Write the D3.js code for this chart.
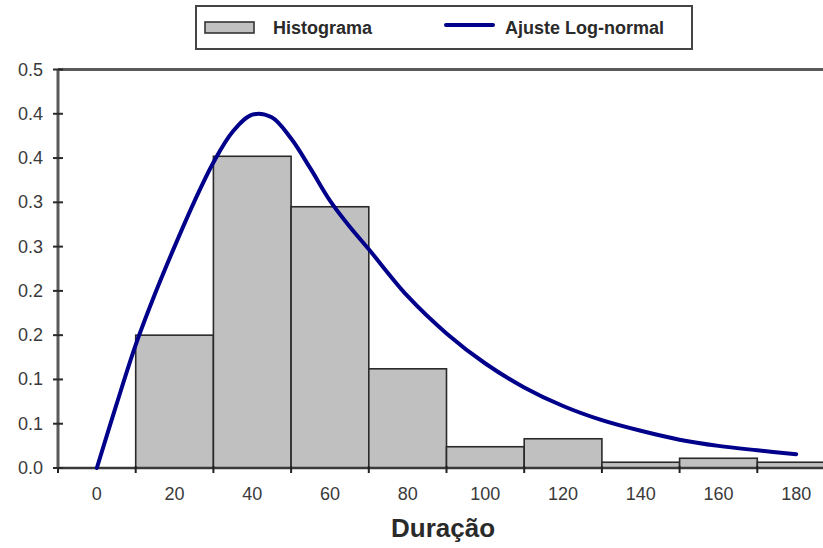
<!DOCTYPE html>
<html>
<head>
<meta charset="utf-8">
<script src="https://cdn.jsdelivr.net/npm/d3@7"></script>
<style>
  body { margin: 0; background: #fff; }
  text { font-family: "Liberation Sans", Arial, sans-serif; }
</style>
</head>
<body>
<div id="chart"></div>
<script>
// histogram bins (lower edge, upper edge, relative frequency)
var binStart = [10, 30, 50, 70, 90, 110, 130, 150, 170];
var binEnd   = [30, 50, 70, 90, 110, 130, 150, 170, 190];
var freq     = [0.150, 0.352, 0.295, 0.112, 0.024, 0.033, 0.0065, 0.011, 0.0065];

// fitted log-normal curve
var fitX = [0, 5, 10, 15, 20, 25, 30, 35, 40, 45, 50, 55, 60, 65, 70, 80, 90, 100, 110, 120, 130, 140, 150, 160, 170, 180];
var fitY = [0, 0.071, 0.139, 0.197, 0.250, 0.300, 0.345, 0.380, 0.399, 0.396, 0.372, 0.338, 0.302, 0.273, 0.247,
            0.194, 0.152, 0.118, 0.091, 0.070, 0.054, 0.042, 0.032, 0.025, 0.020, 0.0155];

var yTicks = [0, 0.05, 0.1, 0.15, 0.2, 0.25, 0.3, 0.35, 0.4, 0.45];
var yTickLabels = ["0.0", "0.1", "0.1", "0.2", "0.2", "0.3", "0.3", "0.4", "0.4", "0.5"];
var xLabels = [0, 20, 40, 60, 80, 100, 120, 140, 160, 180];
var xEdges = [-10, 10, 30, 50, 70, 90, 110, 130, 150, 170, 190];

(function (d3) {
    var W = 823, H = 548;
    var svg = d3.select("#chart").append("svg")
                .attr("width", W).attr("height", H);

    var x = d3.scaleLinear().domain([-10, 190]).range([58, 835]);
    var y = d3.scaleLinear().domain([0, 0.45]).range([468, 69.5]);

    /***** bars *****/
    svg.selectAll(".bar")
       .data(freq)
       .enter()
       .append("rect")
       .attr("x", function(d, i) { return x(binStart[i]); })
       .attr("y", function(d) { return y(d); })
       .attr("width", function(d, i) { return x(binEnd[i]) - x(binStart[i]); })
       .attr("height", function(d) { return y(0) - y(d); })
       .style("fill", "#c0c0c0")
       .style("stroke", "#2a2a2a")
       .style("stroke-width", 1.6);

    /***** frame *****/
    svg.append("line")
       .attr("x1", x(-10)).attr("x2", x(190))
       .attr("y1", y(0.45)).attr("y2", y(0.45))
       .style("stroke", "#5a5a5a").style("stroke-width", 3);

    // x axis: ticks on bin edges, labels on bin centres
    svg.append("line")
       .attr("x1", x(-10)).attr("x2", x(190))
       .attr("y1", y(0)).attr("y2", y(0))
       .style("stroke", "#3a3a3a").style("stroke-width", 2.5);
    svg.selectAll(".xtick")
       .data(xEdges)
       .enter()
       .append("line")
       .attr("x1", function(d) { return x(d); })
       .attr("x2", function(d) { return x(d); })
       .attr("y1", y(0) - 2).attr("y2", y(0) + 5)
       .style("stroke", "#222").style("stroke-width", 2);
    svg.selectAll(".xlab")
       .data(xLabels)
       .enter()
       .append("text")
       .attr("x", function(d) { return x(d); })
       .attr("y", 500)
       .attr("text-anchor", "middle")
       .style("font-size", "18px")
       .style("fill", "#3a3a3a")
       .text(function(d) { return d; });

    // y axis
    svg.append("line")
       .attr("x1", x(-10)).attr("x2", x(-10))
       .attr("y1", y(0) + 1).attr("y2", y(0.45))
       .style("stroke", "#5a5a5a").style("stroke-width", 3);
    svg.selectAll(".ytick")
       .data(yTicks)
       .enter()
       .append("line")
       .attr("x1", x(-10) - 5).attr("x2", x(-10) + 5)
       .attr("y1", function(d) { return y(d); })
       .attr("y2", function(d) { return y(d); })
       .style("stroke", "#2a2a2a").style("stroke-width", 2);
    svg.selectAll(".ylab")
       .data(yTicks)
       .enter()
       .append("text")
       .attr("x", 43)
       .attr("y", function(d) { return y(d) + 6; })
       .attr("text-anchor", "end")
       .style("font-size", "18px")
       .style("fill", "#3a3a3a")
       .text(function(d, i) { return yTickLabels[i]; });

    /***** fitted curve *****/
    var line = d3.line()
                 .x(function(d, i) { return x(fitX[i]); })
                 .y(function(d) { return y(d); })
                 .curve(d3.curveCatmullRom.alpha(0.5));
    svg.append("path")
       .datum(fitY)
       .attr("d", line)
       .style("fill", "none")
       .style("stroke", "#00008b")
       .style("stroke-width", 4)
       .style("stroke-linecap", "round");

    /***** x title *****/
    svg.append("text")
       .attr("x", 443).attr("y", 537)
       .attr("text-anchor", "middle")
       .style("font-size", "26px")
       .style("font-weight", "bold")
       .style("fill", "#2a2a2a")
       .text("Duração");

    /***** legend *****/
    var lg = svg.append("g");
    lg.append("rect")
      .attr("x", 196).attr("y", 6).attr("width", 496).attr("height", 43)
      .style("fill", "#fff").style("stroke", "#444").style("stroke-width", 2);
    lg.append("rect")
      .attr("x", 205).attr("y", 22).attr("width", 49).attr("height", 11)
      .style("fill", "#c0c0c0").style("stroke", "#333").style("stroke-width", 1.6);
    lg.append("text")
      .attr("x", 273).attr("y", 34)
      .style("font-size", "18px").style("font-weight", "bold").style("fill", "#2a2a2a")
      .text("Histograma");
    lg.append("line")
      .attr("x1", 446).attr("x2", 493).attr("y1", 25).attr("y2", 25)
      .style("stroke", "#00008b").style("stroke-width", 4).style("stroke-linecap", "round");
    lg.append("text")
      .attr("x", 505).attr("y", 34)
      .style("font-size", "18px").style("font-weight", "bold").style("fill", "#2a2a2a")
      .text("Ajuste Log-normal");
})(d3);
</script>
</body>
</html>
